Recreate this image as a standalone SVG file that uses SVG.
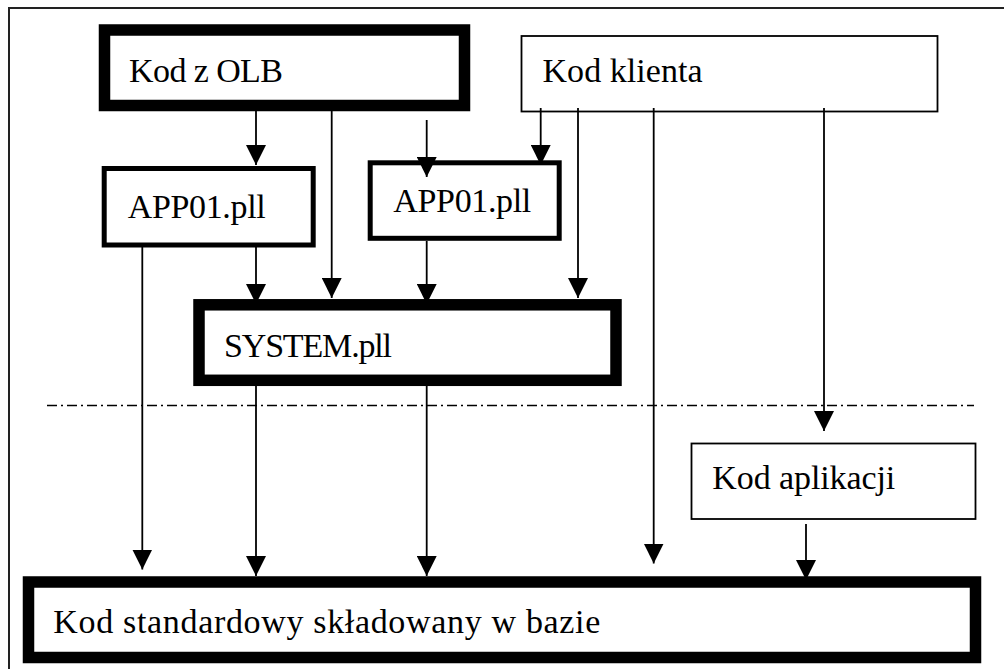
<svg xmlns="http://www.w3.org/2000/svg" width="1004" height="669" viewBox="0 0 1004 669">
  <defs>
    <marker id="head" markerUnits="userSpaceOnUse" markerWidth="20" markerHeight="20" refX="20" refY="10" orient="auto" viewBox="0 0 20 20">
      <path d="M0,0 L20,10 L0,20 z" fill="#000"/>
    </marker>
    <style>
      .lbl { font-size: 34px; fill: #000; }
      .thick { fill: #fff; stroke: #000; stroke-width: 11.5; }
      .mid { fill: #fff; stroke: #000; stroke-width: 5; }
      .thin { fill: #fff; stroke: #000; stroke-width: 1.8; }
      .conn line { stroke: #000; stroke-width: 1.8; marker-end: url(#head); }
      .sep { stroke: #000; stroke-width: 1.6; stroke-dasharray: 10 4 2 4; fill: none; }
    </style>
  </defs>

  <rect width="1004" height="669" fill="#fff"/>

  <!-- frame (top and left edges) -->
  <path d="M9,669 V8 H1004" fill="none" stroke="#222" stroke-width="2"/>

  <!-- boundary between client side and database -->
  <line class="sep" x1="47" y1="405.5" x2="974" y2="405.5"/>

  <g font-family="'Liberation Serif', 'DejaVu Serif', serif">
    <g id="kod-olb">
      <rect class="thick" x="104.5" y="30" width="360" height="75.5"/>
      <text class="lbl" x="129" y="82" textLength="154">Kod z OLB</text>
    </g>

    <g id="kod-klienta">
      <rect class="thin" x="521.5" y="36" width="416" height="75.5"/>
      <text class="lbl" x="542.5" y="82.3" textLength="160">Kod klienta</text>
    </g>

    <g id="app01-left">
      <rect class="mid" x="104.2" y="168.5" width="209" height="76.5"/>
      <text class="lbl" x="127.7" y="218.3" textLength="138">APP01.pll</text>
    </g>

    <g id="app01-right">
      <rect class="mid" x="370.2" y="162.8" width="189" height="75.5"/>
      <text class="lbl" x="393.3" y="211.7" textLength="138">APP01.pll</text>
    </g>

    <g id="system-pll">
      <rect class="thick" x="199" y="304.8" width="417" height="75.5"/>
      <text class="lbl" x="224" y="356.7" textLength="168">SYSTEM.pll</text>
    </g>

    <g id="kod-aplikacji">
      <rect class="thin" x="691.5" y="443.5" width="284" height="75.5"/>
      <text class="lbl" x="712.3" y="489.3" textLength="183">Kod aplikacji</text>
    </g>

    <g id="kod-standardowy">
      <rect class="thick" x="28.5" y="582" width="947" height="75.5"/>
      <text class="lbl" x="53.3" y="633.3" textLength="547">Kod standardowy składowany w bazie</text>
    </g>
  </g>

  <g id="connectors" class="conn">
    <line x1="256" y1="111" x2="256" y2="165"/>
    <line x1="331.7" y1="111" x2="331.7" y2="298"/>
    <line x1="426.7" y1="120" x2="426.7" y2="177"/>
    <line x1="256" y1="247" x2="256" y2="304"/>
    <line x1="426.7" y1="241" x2="426.7" y2="304"/>
    <line x1="142.3" y1="247" x2="142.3" y2="569.5"/>
    <line x1="540.7" y1="108" x2="540.7" y2="165"/>
    <line x1="578" y1="108" x2="578" y2="298"/>
    <line x1="653.7" y1="108" x2="653.7" y2="563.5"/>
    <line x1="824" y1="108" x2="824" y2="431"/>
    <line x1="256" y1="386" x2="256" y2="576"/>
    <line x1="426.7" y1="386" x2="426.7" y2="576"/>
    <line x1="806" y1="524" x2="806" y2="580"/>
  </g>
</svg>
